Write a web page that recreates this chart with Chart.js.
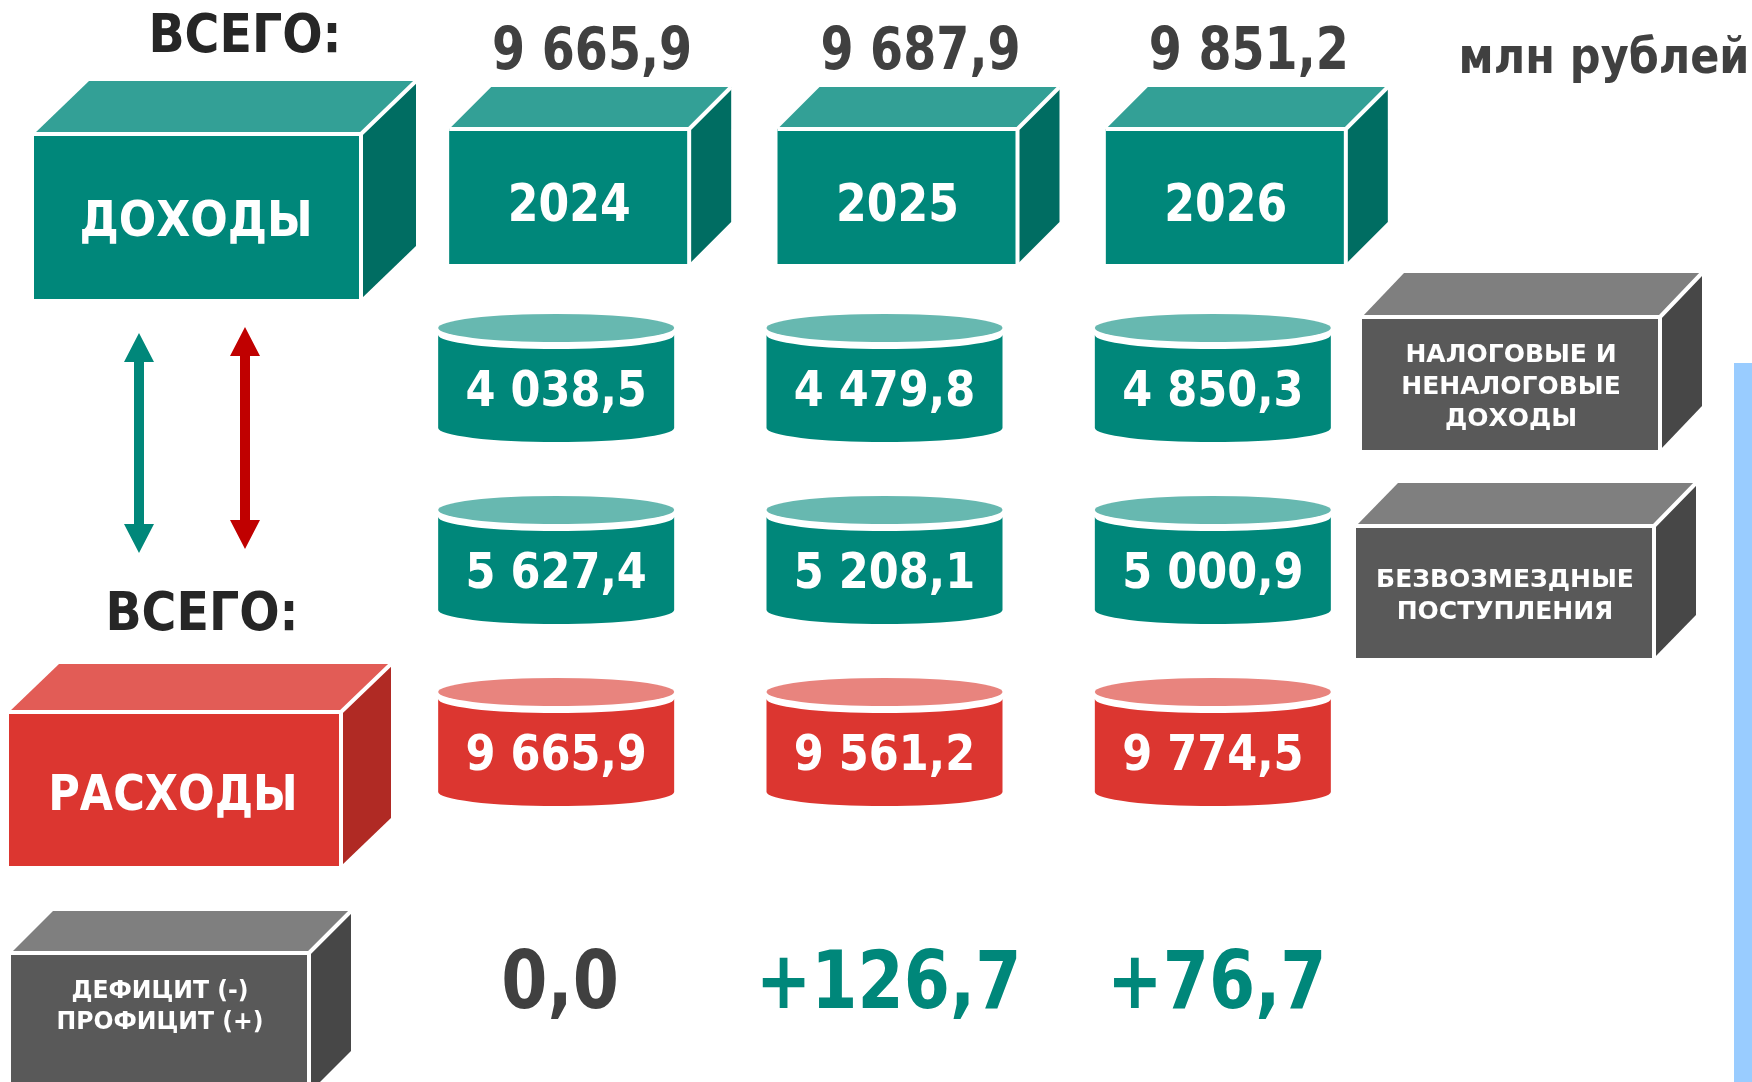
<!DOCTYPE html>
<html lang="ru">
<head>
<meta charset="utf-8">
<title>Доходы и расходы бюджета 2024-2026</title>
<script src="https://cdn.jsdelivr.net/npm/chart.js@4.4.1/dist/chart.umd.min.js"></script>
<style>
  html, body { margin: 0; padding: 0; background: #ffffff; }
  #wrap { width: 1752px; height: 1082px; position: relative; }
</style>
</head>
<body>
<div id="wrap"><canvas id="budgetChart"></canvas></div>
<script>
// categories
const years = ['2024', '2025', '2026'];
const rowNames = ['Налоговые и неналоговые доходы', 'Безвозмездные поступления', 'Расходы'];

// values, млн рублей
const totalIncome = [9665.9, 9687.9, 9851.2];
const taxIncome = [4038.5, 4479.8, 4850.3];
const grantsIncome = [5627.4, 5208.1, 5000.9];
const expenses = [9665.9, 9561.2, 9774.5];
const balance = [0.0, 126.7, 76.7];

// captions
const unitLabel = 'млн рублей';
const totalLabel = 'ВСЕГО:';
const incomeLabel = 'ДОХОДЫ';
const expenseLabel = 'РАСХОДЫ';
const taxLabel = ['НАЛОГОВЫЕ И', 'НЕНАЛОГОВЫЕ', 'ДОХОДЫ'];
const grantsLabel = ['БЕЗВОЗМЕЗДНЫЕ', 'ПОСТУПЛЕНИЯ'];
const balanceLabel = ['ДЕФИЦИТ (-)', 'ПРОФИЦИТ (+)'];

const FONT = '"DejaVu Sans", Verdana, sans-serif';
const TEAL = { front: '#00877a', top: '#33a096', side: '#006d62', lid: '#67b8b0' };
const RED = { front: '#dc3630', top: '#e25c56', side: '#b02a24', lid: '#e8847e' };
const GREY = { front: '#595959', top: '#7f7f7f', side: '#474747' };

// 9665.9 -> "9 665,9"
function fmt(v) {
    const parts = v.toFixed(1).split('.');
    return parts[0].replace(/\B(?=(\d{3})+(?!\d))/g, ' ') + ',' + parts[1];
}

// y is the visual centre of capitals / digits
function drawText(ctx, text, x, y, size, color, sx) {
    ctx.save();
    ctx.translate(x, y + size * 0.08);
    ctx.scale(sx || 1, 1);
    ctx.font = 'bold ' + size + 'px ' + FONT;
    ctx.fillStyle = color;
    ctx.textAlign = 'center';
    ctx.textBaseline = 'middle';
    ctx.fillText(text, 0, 0);
    ctx.restore();
}

// 3d box: front rect plus top and side faces, split by white lines
function drawBox(ctx, x, y, w, h, dx, dy, pal) {
    ctx.save();
    ctx.fillStyle = pal.front;
    ctx.fillRect(x, y, w, h);
    ctx.fillStyle = pal.top;
    ctx.beginPath();
    ctx.moveTo(x, y);
    ctx.lineTo(x + dx, y - dy);
    ctx.lineTo(x + w + dx, y - dy);
    ctx.lineTo(x + w, y);
    ctx.closePath();
    ctx.fill();
    ctx.fillStyle = pal.side;
    ctx.beginPath();
    ctx.moveTo(x + w, y);
    ctx.lineTo(x + w + dx, y - dy);
    ctx.lineTo(x + w + dx, y + h - dy);
    ctx.lineTo(x + w, y + h);
    ctx.closePath();
    ctx.fill();
    ctx.strokeStyle = '#ffffff';
    ctx.lineWidth = 4;
    ctx.beginPath();
    ctx.moveTo(x, y);
    ctx.lineTo(x + w, y);
    ctx.lineTo(x + w, y + h);
    ctx.moveTo(x + w, y);
    ctx.lineTo(x + w + dx, y - dy);
    ctx.stroke();
    ctx.restore();
}

function drawCylinder(ctx, cx, cy, pal, label) {
    const hw = 118, ry = 14, half = 50, gap = 7;
    ctx.save();
    ctx.fillStyle = pal.front;
    ctx.beginPath();
    ctx.moveTo(cx - hw, cy - half + gap);
    ctx.ellipse(cx, cy - half + gap, hw, ry, 0, Math.PI, 0, true);
    ctx.lineTo(cx + hw, cy + half);
    ctx.ellipse(cx, cy + half, hw, ry, 0, 0, Math.PI, false);
    ctx.closePath();
    ctx.fill();
    ctx.fillStyle = pal.lid;
    ctx.beginPath();
    ctx.ellipse(cx, cy - half, hw, ry, 0, 0, Math.PI * 2);
    ctx.fill();
    ctx.restore();
    drawText(ctx, label, cx, cy + 11, 49, '#ffffff', 0.88);
}

function drawArrow(ctx, x, y1, y2, color) {
    const shaft = 10, headW = 30, headL = 29;
    ctx.save();
    ctx.fillStyle = color;
    ctx.fillRect(x - shaft / 2, y1 + headL - 1, shaft, y2 - y1 - 2 * headL + 2);
    ctx.beginPath();
    ctx.moveTo(x, y1);
    ctx.lineTo(x + headW / 2, y1 + headL);
    ctx.lineTo(x - headW / 2, y1 + headL);
    ctx.closePath();
    ctx.moveTo(x, y2);
    ctx.lineTo(x + headW / 2, y2 - headL);
    ctx.lineTo(x - headW / 2, y2 - headL);
    ctx.closePath();
    ctx.fill();
    ctx.restore();
}

function drawLines(ctx, lines, x, y, step, size, sx) {
    const start = y - (lines.length - 1) * step / 2;
    lines.forEach((line, i) => drawText(ctx, line, x, start + i * step, size, '#ffffff', sx));
}

const infographic = {
    id: 'infographic',
    afterDraw(chart) {
        const ctx = chart.ctx;
        const area = chart.chartArea;
        const xs = chart.scales.x;

        // cylinders at the data points
        chart.data.datasets.forEach((ds, d) => {
            const meta = chart.getDatasetMeta(d);
            meta.data.forEach((pt, i) => {
                drawCylinder(ctx, pt.x, pt.y, ds.palette, fmt(ds.data[i].v));
            });
        });

        // year boxes with totals above, balance below
        years.forEach((year, i) => {
            const cx = xs.getPixelForValue(i);
            const bx = cx - 107, by = area.top - 158;
            drawBox(ctx, bx, by, 240, 135, 42, 42, TEAL);
            drawText(ctx, year, bx + 120, by + 74, 52, '#ffffff', 0.85);
            drawText(ctx, fmt(totalIncome[i]), cx + 36, area.top - 238, 58, '#404040', 0.82);
            const b = balance[i];
            drawText(ctx, (b > 0 ? '+' : '') + fmt(b), cx + 4, area.bottom + 148, 80,
                b > 0 ? '#00877a' : '#404040', 0.83);
        });
        drawText(ctx, unitLabel, 1604, 56, 50, '#404040', 0.86);

        // left column
        drawText(ctx, totalLabel, 245, 34, 54, '#262626', 0.88);
        drawBox(ctx, 34, 134, 327, 165, 55, 53, TEAL);
        drawText(ctx, incomeLabel, 196, 219, 49, '#ffffff', 0.9);
        drawArrow(ctx, 139, 333, 553, '#00877a');
        drawArrow(ctx, 245, 327, 549, '#c00000');
        drawText(ctx, totalLabel, 202, 612, 54, '#262626', 0.88);
        drawBox(ctx, 9, 712, 332, 154, 50, 48, RED);
        drawText(ctx, expenseLabel, 173, 793, 49, '#ffffff', 0.88);
        drawBox(ctx, 11, 953, 298, 140, 42, 42, GREY);
        drawLines(ctx, balanceLabel, 160, 1005, 31, 24, 0.98);

        // right column
        drawBox(ctx, 1362, 317, 298, 133, 42, 44, GREY);
        drawLines(ctx, taxLabel, 1511, 385, 32, 25, 1);
        drawBox(ctx, 1356, 526, 298, 132, 42, 43, GREY);
        drawLines(ctx, grantsLabel, 1505, 594, 32, 25, 1);

        ctx.fillStyle = '#99ccff';
        ctx.fillRect(1734, 363, 18, 719);
    }
};

function rowData(values, row) {
    return values.map((v, i) => ({ x: years[i], y: rowNames[row], v: v }));
}

new Chart(document.getElementById('budgetChart'), {
    type: 'scatter',
    data: {
        datasets: [
            { label: rowNames[0], data: rowData(taxIncome, 0), palette: TEAL },
            { label: rowNames[1], data: rowData(grantsIncome, 1), palette: TEAL },
            { label: rowNames[2], data: rowData(expenses, 2), palette: RED }
        ]
    },
    options: {
        responsive: true,
        maintainAspectRatio: false,
        animation: false,
        events: [],
        layout: { padding: { left: 392, right: 375, top: 287, bottom: 249 } },
        elements: { point: { radius: 0, hoverRadius: 0 } },
        scales: {
            x: { type: 'category', labels: years, offset: true, display: false },
            y: { type: 'category', labels: rowNames, offset: true, display: false }
        },
        plugins: {
            legend: { display: false },
            tooltip: { enabled: false }
        }
    },
    plugins: [infographic]
});
</script>
</body>
</html>
